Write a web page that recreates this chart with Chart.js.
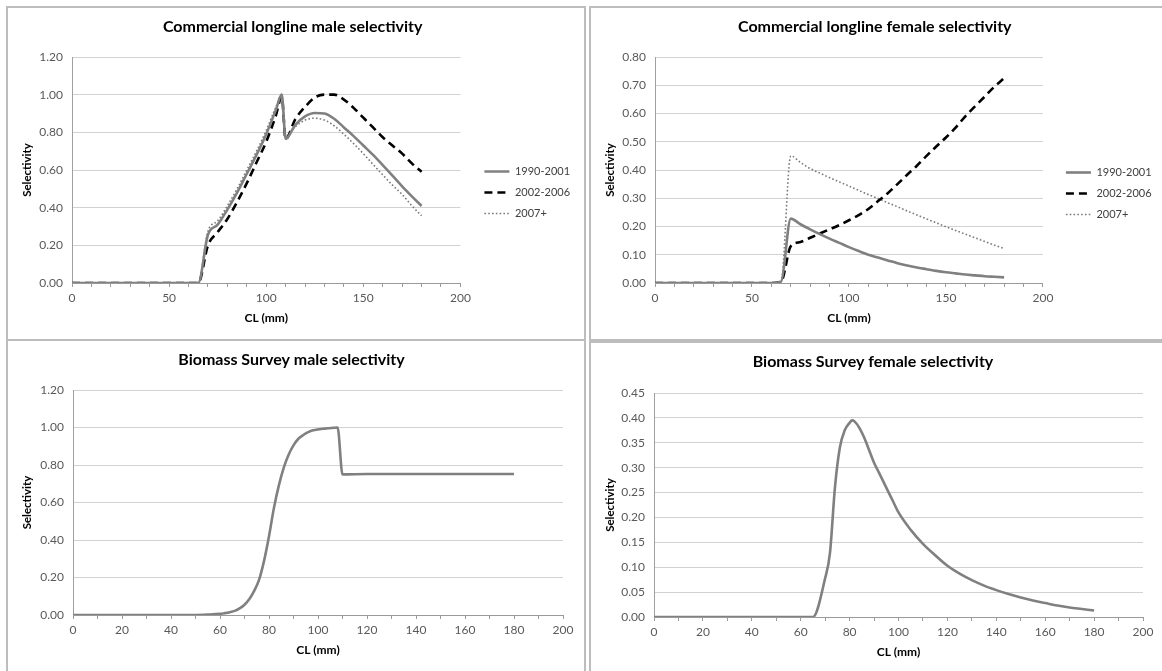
<!DOCTYPE html>
<html>
<head>
<meta charset="utf-8">
<script src="https://cdn.jsdelivr.net/npm/chart.js@4.4.0/dist/chart.umd.min.js"></script>
<style>
  body { margin:0; background:#fff; width:1162px; height:671px; overflow:hidden; position:relative; }
  .panel { position:absolute; border:2px solid #bdbdbd; box-sizing:border-box; }
  .panel canvas { position:absolute; left:0; top:0; }
</style>
</head>
<body>
<div class="panel" style="left:6px;top:6px;width:580px;height:334px;border-bottom:none"><canvas id="c1" width="576" height="329"></canvas></div>
<div class="panel" style="left:589px;top:6px;width:580px;height:335px"><canvas id="c2" width="571" height="331"></canvas></div>
<div class="panel" style="left:6px;top:339px;width:580px;height:340px"><canvas id="c3" width="576" height="330"></canvas></div>
<div class="panel" style="left:589px;top:341px;width:580px;height:340px"><canvas id="c4" width="571" height="328"></canvas></div>
<script>
// series names
var seriesNames = ['1990-2001', '2002-2006', '2007+']

// commercial longline, male
var maleX    = [0,10,20,30,40,50,60,65, 70,75,80,85,90,95,100,105, 108,110, 115,120,125,130,135,140,145,150,155,160,165,170,175,180]
var male1990 = [0,0,0,0,0,0,0,0, 0.256,0.31,0.39,0.48,0.58,0.68,0.79,0.92, 1.0,0.765, 0.84,0.885,0.903,0.9,0.872,0.826,0.78,0.73,0.68,0.626,0.57,0.513,0.46,0.409]
var male2002 = [0,0,0,0,0,0,0,0, 0.20,0.27,0.34,0.43,0.53,0.64,0.75,0.89, 0.99,0.765, 0.87,0.935,0.985,1.0,1.0,0.974,0.93,0.878,0.826,0.774,0.73,0.687,0.635,0.59]
var male2007 = [0,0,0,0,0,0,0,0, 0.275,0.33,0.41,0.50,0.60,0.70,0.81,0.935, 1.0,0.78, 0.83,0.865,0.875,0.865,0.835,0.79,0.74,0.687,0.63,0.574,0.52,0.47,0.41,0.357]

// commercial longline, female
var femaleX    = [0,10,20,30,40,50,60,65, 70,75,80,85,90,95,100,105,110,115,120,125,130,135,140,145,150,155,160,165,170,175,180]
var female1990 = [0,0,0,0,0,0,0,0.005, 0.228,0.208,0.19,0.173,0.157,0.142,0.127,0.113,0.10,0.09,0.08,0.07,0.062,0.055,0.049,0.043,0.038,0.034,0.03,0.027,0.024,0.022,0.02]
var female2002 = [0,0,0,0,0,0,0,0.005, 0.13,0.145,0.16,0.175,0.19,0.205,0.222,0.24,0.262,0.29,0.318,0.35,0.383,0.415,0.45,0.483,0.515,0.55,0.59,0.625,0.66,0.695,0.725]
var female2007 = [0,0,0,0,0,0,0,0.005, 0.45,0.427,0.405,0.389,0.373,0.358,0.343,0.328,0.313,0.299,0.284,0.27,0.255,0.241,0.227,0.213,0.199,0.186,0.173,0.16,0.147,0.134,0.122]

// biomass survey, male
var survMaleX = [0,10,20,30,40,50,55,60, 62,64,66,68,70,72,74,76,78,80,82,84,86,88,90,92,94,96,98,100,102,104,106,108, 110,120,130,140,150,160,170,180]
var survMale  = [0,0,0,0,0,0,0.002,0.006, 0.01,0.015,0.022,0.035,0.055,0.085,0.13,0.19,0.29,0.42,0.57,0.69,0.785,0.855,0.905,0.94,0.96,0.975,0.985,0.99,0.993,0.996,0.998,1.0, 0.75,0.752,0.752,0.752,0.752,0.752,0.752,0.752]

// biomass survey, female
var survFemaleX = [0,10,20,30,40,50,60,65, 70,72,74,76,78,80,81,82,84,86,88,90,92,94,96,98,100, 105,110,115,120,125,130,135,140,145,150,155,160,165,170,175,180]
var survFemale  = [0,0,0,0,0,0,0,0, 0.078,0.13,0.26,0.34,0.375,0.39,0.395,0.393,0.38,0.36,0.335,0.31,0.29,0.27,0.25,0.23,0.21, 0.175,0.147,0.124,0.103,0.087,0.074,0.063,0.054,0.046,0.039,0.033,0.028,0.023,0.019,0.016,0.013]

// tick labels on the x axes
var xLabelsTop = [0,50,100,150,200]
var xLabelsBottom = [0,20,40,60,80,100,120,140,160,180,200]

var FONT = 'Lato, "Liberation Sans", sans-serif'
var styles = [
  {borderColor:'#808080', borderWidth:2.6, borderDash:[]},
  {borderColor:'#000000', borderWidth:2.6, borderDash:[8,5]},
  {borderColor:'#7a7a7a', borderWidth:1.6, borderDash:[1.6,2.2]}
]

// legend box is clipped to its measured width, let it run to the canvas edge
var legendRoom = {
  id:'legendRoom',
  afterLayout: function(chart){
    var lg = chart.legend
    if (lg && lg.options.display) {
      lg.right = chart.width
      lg.width = chart.width - lg.left
    }
  }
}

function pts(xs, ys){
  return xs.map(function(x,i){ return {x:x, y:ys[i]} })
}

function makeChart(id, cfg){
  var datasets = cfg.series.map(function(s, i){
    var st = styles[i]
    return {
      label: s.name,
      data: pts(cfg.x, s.values),
      borderColor: st.borderColor,
      backgroundColor: st.borderColor,
      borderWidth: st.borderWidth,
      borderDash: st.borderDash,
      pointRadius: 0,
      cubicInterpolationMode: 'monotone',
      fill: false
    }
  })

  var scales = {
    x: {
      type:'linear', min:0, max:200,
      ticks: {
        stepSize:10, autoSkip:false, maxRotation:0, padding:4,
        color:'#595959', font:{family:FONT, size:12},
        callback: function(v){ return cfg.xLabels.indexOf(v) >= 0 ? v : '' }
      },
      grid: { drawOnChartArea:false, drawTicks:true, tickLength:4, color:'#9a9a9a' },
      border: { color:'#9a9a9a' },
      title: { display:true, text:'CL (mm)', color:'#000', font:{family:FONT, size:12, weight:'bold'}, padding:{top:0, bottom:cfg.xTitlePad} },
      afterFit: function(s){ s.height = cfg.xHeight }
    },
    y: {
      min:0, max:cfg.yMax,
      ticks: {
        stepSize:cfg.yStep, padding:9, color:'#595959', font:{family:FONT, size:12},
        callback: function(v){ return v.toFixed(2) }
      },
      grid: { color:'#d2d2d2', drawTicks:false },
      border: { color:'#a0a0a0' },
      title: { display:true, text:'Selectivity', color:'#000', font:{family:FONT, size:11.5, weight:'bold'}, padding:0 },
      afterFit: function(s){ s.width = cfg.yWidth }
    }
  }
  if (cfg.legend) {
    // empty strip between plot and legend
    scales.gap = {
      type:'linear', position:'right', display:true,
      ticks:{display:false}, grid:{display:false}, border:{display:false},
      afterFit: function(s){ s.width = cfg.gap }
    }
  }

  return new Chart(document.getElementById(id), {
    type:'line',
    data:{ datasets:datasets },
    plugins:[legendRoom],
    options:{
      responsive:false,
      animation:false,
      layout:{ padding:cfg.padding },
      scales:scales,
      plugins:{
        title:{
          display:true, text:cfg.title, color:'#000',
          font:{family:FONT, size:16, weight:'bold'},
          padding:cfg.titlePad
        },
        legend:{
          display:!!cfg.legend,
          position:'right', align:'center',
          title:{display:true, text:' ', font:{size:10}, padding:14},
          labels:{
            usePointStyle:true, pointStyle:'line', pointStyleWidth:25,
            color:'#404040', font:{family:FONT, size:11}, padding:10,
            generateLabels: function(chart){
              var items = Chart.defaults.plugins.legend.labels.generateLabels(chart)
              items.forEach(function(it){
                var ds = chart.data.datasets[it.datasetIndex]
                it.lineDash = ds.borderDash
                it.lineWidth = ds.borderWidth
                it.strokeStyle = ds.borderColor
              })
              return items
            }
          }
        },
        tooltip:{enabled:false}
      }
    }
  })
}

makeChart('c1', {
  title:'Commercial longline male selectivity',
  x:maleX, xLabels:xLabelsTop, yMax:1.2, yStep:0.2,
  series:[{name:seriesNames[0], values:male1990},{name:seriesNames[1], values:male2002},{name:seriesNames[2], values:male2007}],
  legend:true, gap:14,
  padding:{left:12, right:18.7, top:0, bottom:0},
  titlePad:{top:9.4, bottom:20.4}, yWidth:52, xHeight:54, xTitlePad:11.8
})

makeChart('c2', {
  title:'Commercial longline female selectivity',
  x:femaleX, xLabels:xLabelsTop, yMax:0.8, yStep:0.1,
  series:[{name:seriesNames[0], values:female1990},{name:seriesNames[1], values:female2002},{name:seriesNames[2], values:female2007}],
  legend:true, gap:13,
  padding:{left:12, right:15.5, top:0, bottom:0},
  titlePad:{top:9.4, bottom:20.4}, yWidth:52, xHeight:56, xTitlePad:13.8
})

makeChart('c3', {
  title:'Biomass Survey male selectivity',
  x:survMaleX, xLabels:xLabelsBottom, yMax:1.2, yStep:0.2,
  series:[{name:'Survey', values:survMale}],
  legend:false,
  padding:{left:12, right:21, top:0, bottom:0},
  titlePad:{top:9.4, bottom:20.4}, yWidth:53, xHeight:56, xTitlePad:13.8
})

makeChart('c4', {
  title:'Biomass Survey female selectivity',
  x:survFemaleX, xLabels:xLabelsBottom, yMax:0.45, yStep:0.05,
  series:[{name:'Survey', values:survFemale}],
  legend:false,
  padding:{left:12, right:19, top:0, bottom:0},
  titlePad:{top:9.4, bottom:21.4}, yWidth:51, xHeight:54, xTitlePad:11.8
})
</script>
</body>
</html>
